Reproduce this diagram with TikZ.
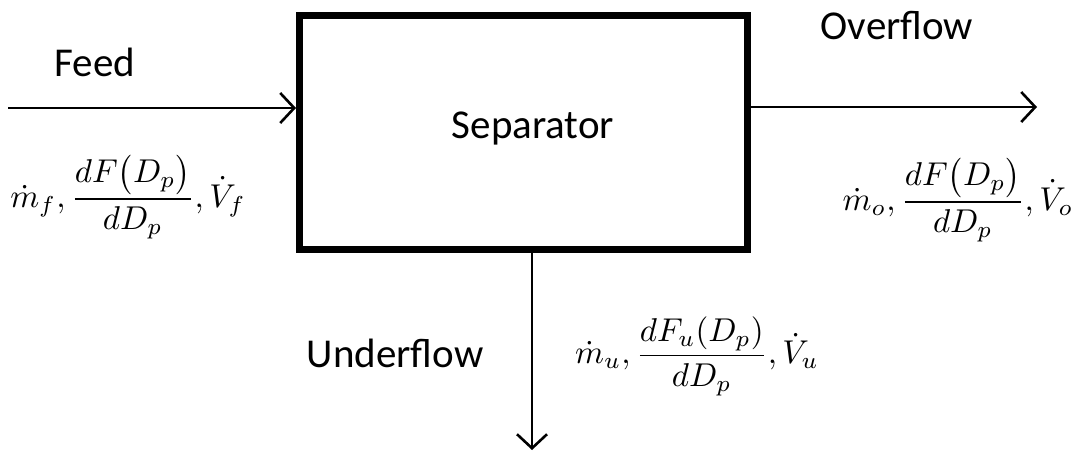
\documentclass[tikz,border=0pt]{standalone}
\usepackage{fontspec}
\setmainfont{Carlito}
\usepackage{amsmath}
\usetikzlibrary{arrows.meta}
\tikzset{
  flow/.style={line width=2.6pt,-{Straight Barb[length=14pt,width=30pt,line width=2.6pt]}},
  lbl/.style={font=\fontsize{41}{48}\selectfont,inner sep=0pt},
  mlbl/.style={scale=3.3,inner sep=0pt},
  sepbox/.style={draw,line width=7pt,minimum width=448pt,minimum height=234pt,inner sep=0pt}
}
\begin{document}
\begin{tikzpicture}[x=1pt,y=-1pt]
\useasboundingbox (0,0) rectangle (1083,455);
\node[sepbox] (sep) at (523.5,132.5) {};
\node[lbl] (septxt) at (533,128) {Separator};
\coordinate (feedin) at (8,108);
\coordinate (overout) at (1037,107);
\coordinate (underout) at (532,450);
\draw[flow] (feedin) -- (feedin -| sep.west);
\draw[flow] (overout -| sep.east) -- (overout);
\draw[flow] (underout |- sep.south) -- (underout);
\node[lbl] (feed) at (95,62) {Feed};
\node[lbl] (over) at (897,26) {Overflow};
\node[lbl] (under) at (395,353) {Underflow};
\node[mlbl] (mf) at (128,197) {$\displaystyle \dot m_f,\frac{dF\bigl(D_p\bigr)}{dD_p},\dot V_f$};
\node[mlbl] (mo) at (958,200) {$\displaystyle \dot m_o,\frac{dF\bigl(D_p\bigr)}{dD_p},\dot V_o$};
\node[mlbl] (mu) at (697,356) {$\displaystyle \dot m_u,\frac{dF_u(D_p)}{dD_p},\dot V_u$};
\end{tikzpicture}
\end{document}
